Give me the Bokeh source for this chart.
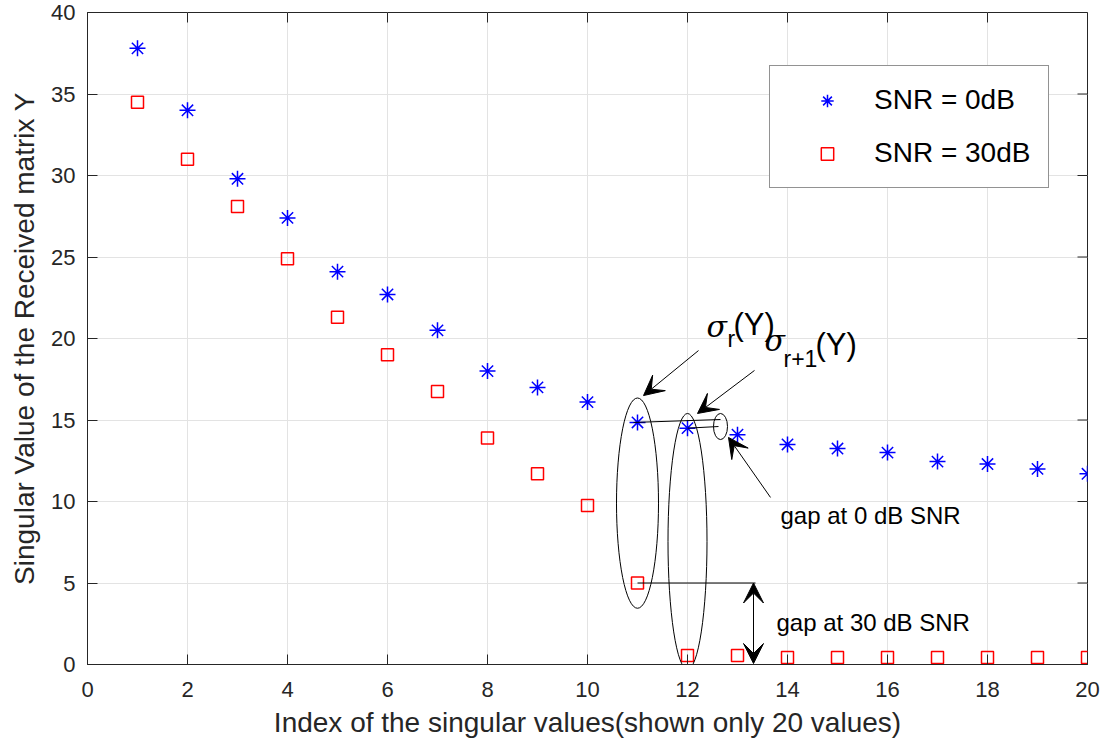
from bokeh.plotting import figure
from bokeh.models import (ColumnDataSource, Legend, LegendItem, FixedTicker,
                          Arrow, VeeHead, Label, Range1d)
from bokeh.embed import file_html
from bokeh.resources import INLINE

# ---------------- data ----------------
idx = list(range(1, 21))
snr0 = [37.8, 34.0, 29.8, 27.4, 24.1, 22.7, 20.5, 18.0, 17.0, 16.1,
        14.85, 14.5, 14.1, 13.5, 13.25, 13.0, 12.45, 12.3, 12.0, 11.7]
snr30 = [34.5, 31.0, 28.1, 24.9, 21.3, 19.0, 16.75, 13.9, 11.7, 9.75,
         5.0, 0.55, 0.55, 0.43, 0.43, 0.43, 0.43, 0.43, 0.43, 0.43]
x_ticks = [0, 2, 4, 6, 8, 10, 12, 14, 16, 18, 20]
y_ticks = [0, 5, 10, 15, 20, 25, 30, 35, 40]
series_labels = ["SNR = 0dB", "SNR = 30dB"]

FONT = "Liberation Sans"
AX = "#262626"
XMIN, XMAX, YMIN, YMAX = 0, 20, 0, 40
W, H = 1120, 749
BL, BR, BT, BB = 87, 33, 12, 85
TICK = 10

p = figure(width=W, height=H, output_backend="svg", toolbar_location=None,
           x_range=Range1d(XMIN, XMAX), y_range=Range1d(YMIN, YMAX),
           min_border_left=BL, min_border_right=BR, min_border_top=BT, min_border_bottom=BB)
p.background_fill_color = "white"
p.border_fill_color = "white"
p.outline_line_color = AX
p.outline_line_alpha = 1.0

for ax, ticks in ((p.xaxis[0], x_ticks), (p.yaxis[0], y_ticks)):
    ax.ticker = FixedTicker(ticks=ticks)
    ax.major_tick_in = TICK
    ax.major_tick_out = 0
    ax.minor_tick_line_color = None
    ax.axis_line_color = AX
    ax.major_tick_line_color = AX
    ax.major_label_text_color = AX
    ax.major_label_text_font = FONT
    ax.major_label_text_font_size = "22px"
    ax.axis_label_text_font = FONT
    ax.axis_label_text_font_size = "28px"
    ax.axis_label_text_font_style = "normal"
    ax.axis_label_text_color = AX

p.xaxis[0].axis_label = "Index of the singular values(shown only 20 values)"
p.yaxis[0].axis_label = "Singular Value of the Received matrix Y"
p.xaxis[0].major_label_standoff = 17
p.xaxis[0].axis_label_standoff = 7
p.yaxis[0].major_label_standoff = 12
p.yaxis[0].axis_label_standoff = 8

p.xgrid.ticker = FixedTicker(ticks=x_ticks)
p.ygrid.ticker = FixedTicker(ticks=y_ticks)
p.xgrid.grid_line_color = "#e3e3e3"
p.ygrid.grid_line_color = "#e3e3e3"

# mirrored ticks on top and right (MATLAB "box on")
dx = TICK * (XMAX - XMIN) / (W - BL - BR)
dy = TICK * (YMAX - YMIN) / (H - BT - BB)
p.segment(x0=[XMAX] * len(y_ticks), y0=y_ticks, x1=[XMAX - dx] * len(y_ticks), y1=y_ticks,
          line_color=AX, line_width=1)
p.segment(x0=x_ticks, y0=[YMAX] * len(x_ticks), x1=x_ticks, y1=[YMAX - dy] * len(x_ticks),
          line_color=AX, line_width=1)

src = ColumnDataSource(dict(x=idx, s0=snr0, s30=snr30))
r0 = p.scatter("x", "s0", source=src, marker="asterisk", size=16, line_color="#0000ff", line_width=1.5)
r30 = p.scatter("x", "s30", source=src, marker="square", size=12, line_color="#ff0000",
                fill_color=None, line_width=1.5)

# ---------------- annotations ----------------
k = 10  # index of sigma_r (11th value)
p.ellipse(x=[idx[k], idx[k + 1], 12.66], y=[9.9, 7.55, 14.6], width=[0.84, 0.78, 0.28],
          height=[12.9, 15.7, 1.6], fill_color=None, line_color="black", line_width=1)
p.segment(x0=[idx[k] - 0.08, idx[k + 1], idx[k]], y0=[snr0[k], snr0[k + 1], snr30[k]],
          x1=[12.66, 12.62, 13.36], y1=[15.03, 14.6, snr30[k]], line_color="black", line_width=1)

head = dict(size=20, fill_color="black", line_color="black", line_width=1)
p.add_layout(Arrow(end=VeeHead(**head), x_start=12.22, y_start=19.26, x_end=11.12, y_end=16.5,
                   line_width=1, line_color="black"))
p.add_layout(Arrow(end=VeeHead(**head), x_start=13.34, y_start=18.04, x_end=12.2, y_end=15.4,
                   line_width=1, line_color="black"))
p.add_layout(Arrow(end=VeeHead(**head), x_start=13.66, y_start=10.25, x_end=12.82, y_end=13.93,
                   line_width=1, line_color="black"))
p.add_layout(Arrow(start=VeeHead(**head), end=VeeHead(**head), x_start=13.32, y_start=snr30[k],
                   x_end=13.32, y_end=0.06, line_width=1, line_color="black"))

def lab(x, y, t, size, font=FONT, style="normal"):
    p.add_layout(Label(x=x, y=y, text=t, text_font=font, text_font_size=size,
                       text_font_style=style, text_baseline="middle", text_align="left",
                       text_color="black"))

lab(12.38, 20.75, "σ", "30px", "DejaVu Serif", "italic")
lab(12.8, 19.95, "r", "23px")
lab(12.92, 20.85, "(Y)", "31px")
lab(13.54, 19.85, "σ", "30px", "DejaVu Serif", "italic")
lab(13.92, 18.75, "r+1", "23px")
lab(14.56, 19.65, "(Y)", "31px")
lab(13.86, 9.14, "gap at 0 dB SNR", "24px")
lab(13.78, 2.58, "gap at 30 dB SNR", "24px")

# ---------------- legend ----------------
legend = Legend(items=[LegendItem(label=series_labels[0], renderers=[r0]),
                       LegendItem(label=series_labels[1], renderers=[r30])],
                location=(682, 476), padding=18, spacing=21, glyph_width=78, glyph_height=31,
                label_height=31, label_standoff=8, margin=0,
                label_text_font=FONT, label_text_font_size="28px", label_text_color="black",
                border_line_color=AX, border_line_width=1, background_fill_color="white",
                background_fill_alpha=1.0)
p.add_layout(legend)

open("out.html", "w").write(file_html(p, INLINE))
